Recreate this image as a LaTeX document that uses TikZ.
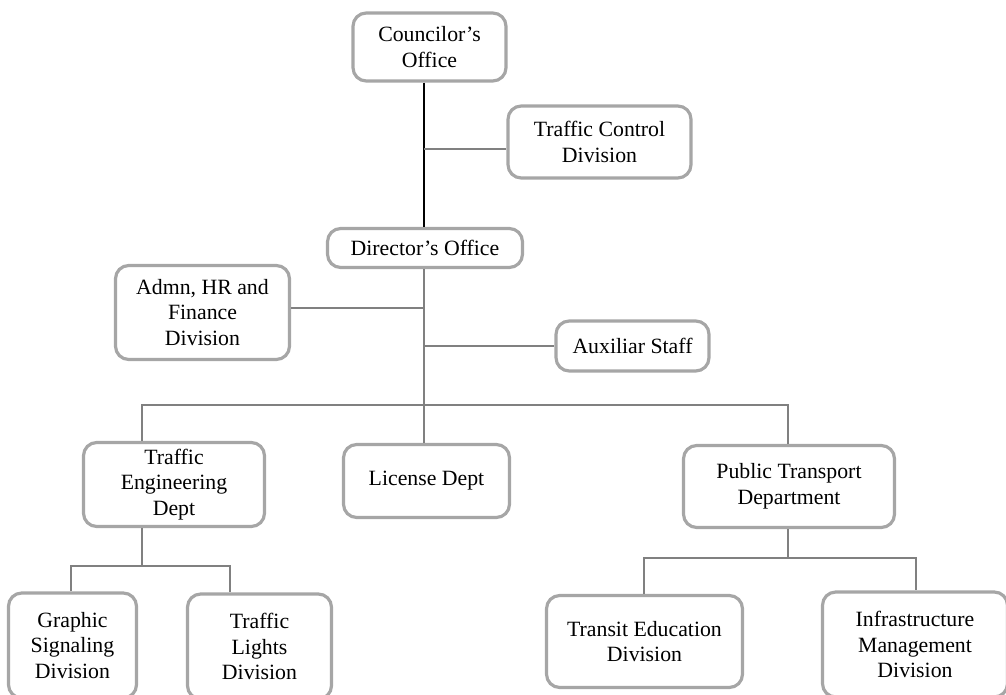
\documentclass[tikz,border=0pt]{standalone}
\usepackage{xcolor}
\usepackage{fontspec}
\setmainfont{Liberation Serif}
\usetikzlibrary{positioning}
\definecolor{BoxGray}{HTML}{A6A6A6}
\definecolor{WireGray}{HTML}{808080}

\tikzset{
	unit/.style={draw=BoxGray, line width=1.8pt, rounded corners=7.5pt, fill=white,
		align=center, inner sep=0pt, font=\fontsize{12.4}{14.7}\selectfont},
	wire/.style={draw=WireGray, line width=0.6pt},
}

\begin{document}
\begin{tikzpicture}[x=0.02cm, y=-0.02cm]
				\useasboundingbox (0,0) rectangle (1006,695);
				\clip (0,0) rectangle (1006,695);

				% offices
				\node[unit, minimum width=3.06cm, minimum height=1.36cm] (councilor) at (429.5,47) {Councilor's\\Office};
				\node[unit, minimum width=3.66cm, minimum height=1.44cm] (trafficctl) at (599.5,142) {Traffic Control\\Division};
				\node[unit, minimum width=3.9cm, minimum height=0.78cm] (director) at (425,248) {Director's Office};
				\node[unit, minimum width=3.48cm, minimum height=1.88cm] (admin) at (202.5,312.5) {Admn, HR and\\Finance\\Division};
				\node[unit, minimum width=3.06cm, minimum height=1.0cm] (auxiliar) at (632.5,346) {Auxiliar Staff};

				% departments
				\node[unit, minimum width=3.62cm, minimum height=1.68cm] (trafeng) at (174,484.5) {Traffic\\Engineering\\Dept};
				\node[unit, minimum width=3.32cm, minimum height=1.46cm] (license) at (426.5,481) {License Dept};
				\node[unit, minimum width=4.22cm, minimum height=1.64cm] (pubtrans) at (789,486.5) {Public Transport\\Department};

				% divisions
				\node[unit, minimum width=2.56cm, minimum height=2.1cm] (graphic) at (72.5,645.5) {Graphic\\Signaling\\Division};
				\node[unit, minimum width=2.88cm, minimum height=2.1cm] (lights) at (259.5,646.5) {Traffic\\Lights\\Division};
				\node[unit, minimum width=3.92cm, minimum height=1.84cm] (transit) at (644.5,641.5) {Transit Education\\Division};
				\node[unit, minimum width=3.7cm, minimum height=2.1cm] (infra) at (915,644.5) {Infrastructure\\Management\\Division};

				% branch points
				\coordinate (trunk) at (424,0);
				\coordinate (ctlfork) at (424,149);
				\coordinate (adminfork) at (424,308);
				\coordinate (topbus) at (424,405);
				\coordinate (engbus) at (142,566);
				\coordinate (ptbus) at (788,558);

				\draw[line width=0.9pt] (councilor.south -| trunk) -- (director.north -| trunk);
				\draw[wire] (ctlfork) -- (ctlfork -| trafficctl.west);

				\draw[wire] (director.south -| trunk) -- (topbus);
				\draw[wire] (admin.east |- adminfork) -- (adminfork);
				\draw[wire] (auxiliar.west -| trunk) -- (auxiliar.west);

				% department drops
				\draw[wire] (trafeng.north -| engbus) |- (topbus) -| (pubtrans.north -| ptbus);
				\draw[wire] (topbus) -- (license.north -| topbus);

				% division drops
				\draw[wire] (trafeng.south -| engbus) -- (engbus);
				\draw[wire] (graphic.north -| 71,0) |- (engbus) -| (lights.north -| 230,0);
				\draw[wire] (pubtrans.south -| ptbus) -- (ptbus);
				\draw[wire] (transit.north -| 644,0) |- (ptbus) -| (infra.north -| 916,0);
			\end{tikzpicture}
\end{document}
